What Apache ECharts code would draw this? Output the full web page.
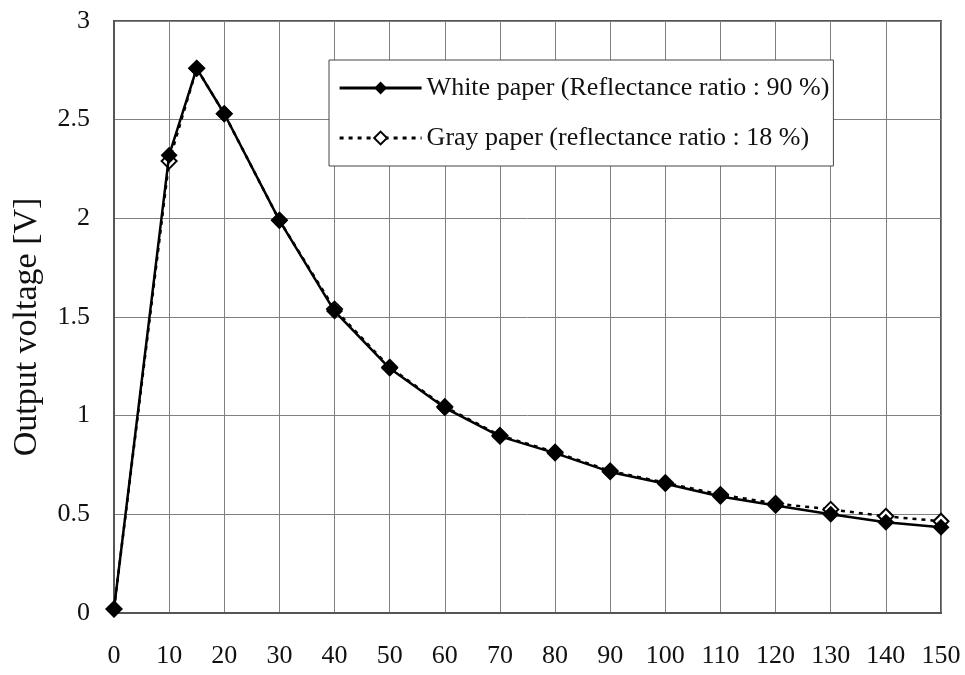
<!DOCTYPE html>
<html>
<head>
<meta charset="utf-8">
<script src="https://cdn.jsdelivr.net/npm/echarts@6/dist/echarts.min.js"></script>
<style>html,body{margin:0;padding:0;background:#fff}#c{width:965px;height:675px}</style>
</head>
<body>
<div id="c"></div>
<script>
const distances = [0, 10, 15, 20, 30, 40, 50, 60, 70, 80, 90, 100, 110, 120, 130, 140, 150];
const whitePaper = [0.02, 2.32, 2.76, 2.53, 1.99, 1.53, 1.24, 1.04, 0.895, 0.81, 0.715, 0.655, 0.59, 0.545, 0.50, 0.46, 0.435];
const grayPaper  = [0.02, 2.29, 2.76, 2.53, 1.99, 1.54, 1.245, 1.045, 0.90, 0.815, 0.72, 0.66, 0.60, 0.555, 0.525, 0.49, 0.465];
const whiteName = 'White paper (Reflectance ratio : 90 %)';
const grayName = 'Gray paper (reflectance ratio : 18 %)';
const yAxisTitle = 'Output voltage [V]';

const font = '"Liberation Serif", "DejaVu Serif", serif';
const chart = echarts.init(document.getElementById('c'));
const pair = (xs, ys) => xs.map((x, i) => [x, ys[i]]);
chart.setOption({
  animation: false,
  backgroundColor: '#fff',
  grid: { left: 114, right: 24, top: 21, bottom: 62, show: true, borderColor: '#555', borderWidth: 2 },
  legend: {
    left: 329, top: 60,
    orient: 'vertical',
    backgroundColor: '#fff',
    borderColor: '#444', borderWidth: 1,
    padding: [15, 4, 15, 9],
    itemGap: 24,
    itemWidth: 82, itemHeight: 16,
    lineStyle: { width: 3.2 },
    textStyle: { fontFamily: font, fontSize: 26, color: '#111' },
    data: [whiteName, grayName]
  },
  xAxis: {
    type: 'value', min: 0, max: 150, interval: 10,
    axisLine: { show: true, lineStyle: { color: '#555', width: 2 } },
    axisTick: { show: false },
    axisLabel: { fontFamily: font, fontSize: 26, color: '#111', margin: 30 },
    splitLine: { show: true, lineStyle: { color: '#808080', width: 1 } }
  },
  yAxis: {
    type: 'value', min: 0, max: 3, interval: 0.5,
    name: yAxisTitle, nameLocation: 'middle', nameGap: 70,
    nameTextStyle: { fontFamily: font, fontSize: 34, color: '#111', padding: [0, 20, 0, 0] },
    axisLine: { show: true, lineStyle: { color: '#555', width: 2 } },
    axisTick: { show: false },
    axisLabel: { fontFamily: font, fontSize: 26, color: '#111', margin: 24, padding: [9, 0, 0, 0] },
    splitLine: { show: true, lineStyle: { color: '#808080', width: 1 } }
  },
  series: [
    {
      name: grayName, type: 'line', data: pair(distances, grayPaper),
      symbol: 'diamond', symbolSize: 15,
      itemStyle: { color: '#fff', borderColor: '#000', borderWidth: 2 },
      lineStyle: { color: '#000', width: 2.5, type: [4, 5] },
      z: 2
    },
    {
      name: whiteName, type: 'line', data: pair(distances, whitePaper),
      symbol: 'diamond', symbolSize: 17,
      itemStyle: { color: '#000', borderColor: '#000', borderWidth: 0 },
      lineStyle: { color: '#000', width: 2.5 },
      z: 3
    }
  ]
});
</script>
</body>
</html>
